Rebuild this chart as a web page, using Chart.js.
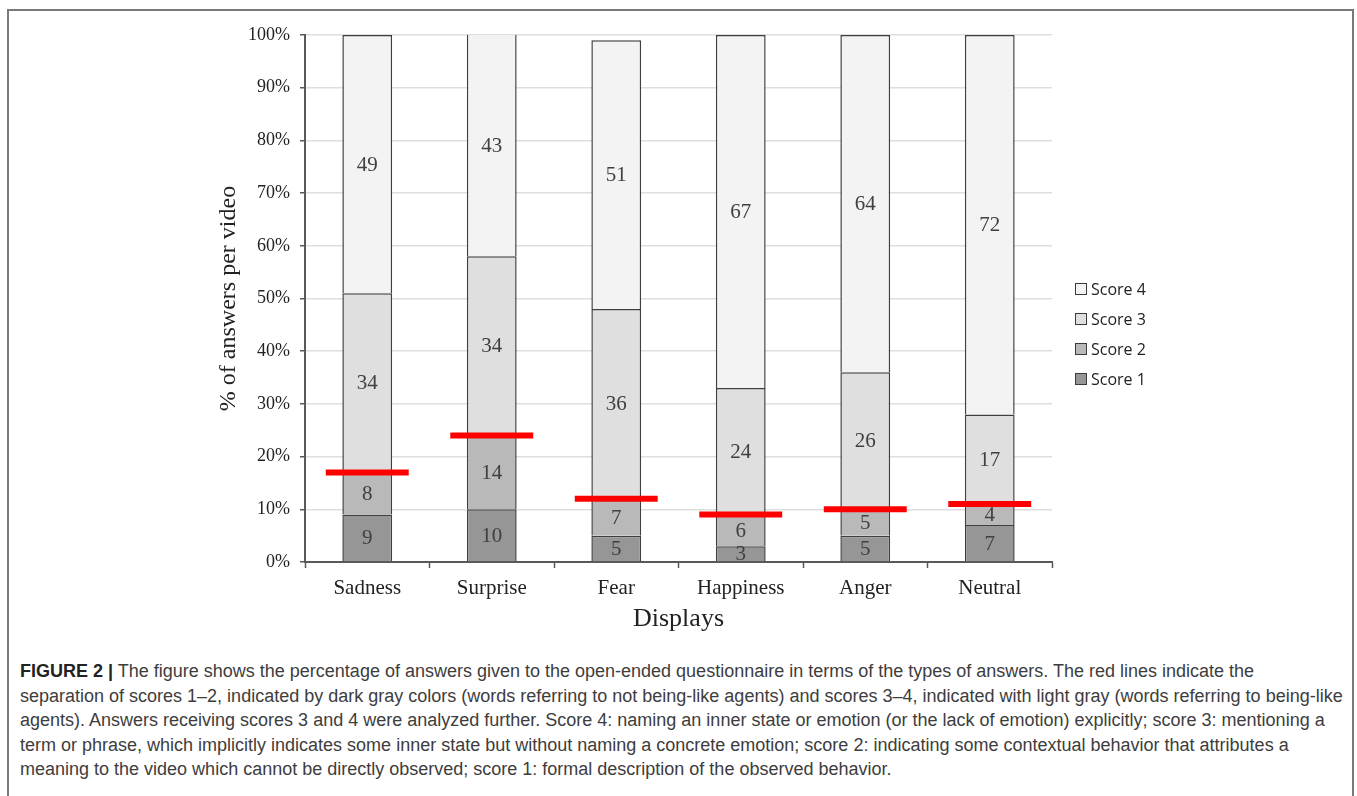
<!DOCTYPE html>
<html>
<head>
<meta charset="utf-8">
<script src="https://cdn.jsdelivr.net/npm/chart.js@4.4.1/dist/chart.umd.min.js"></script>
<style>
  html, body { margin: 0; padding: 0; background: #fff; }
  body { width: 1357px; height: 796px; position: relative; overflow: hidden; }
  #frame { position: absolute; left: 7px; top: 9px; width: 1347px; height: 800px;
           border: 2px solid #7a7a7a; border-bottom: none; box-sizing: border-box; }
  #wrap { position: absolute; left: 0; top: 0; width: 1357px; height: 645px; }
  #legend { position: absolute; left: 1075px; top: 274px; font-family: "Open Sans", sans-serif;
            font-size: 16px; color: #222; }
  #legend .row { height: 30px; display: flex; align-items: center; }
  #legend .box { width: 10px; height: 10px; border: 1px solid #3a3a3a; margin-right: 4px; }
  #caption { position: absolute; left: 20px; top: 659px; font-family: "Liberation Sans", Arial, sans-serif;
             font-size: 18px; line-height: 24.5px; color: #3d3d3d; white-space: nowrap; }
  #caption b { color: #222; }
</style>
</head>
<body>
<div id="frame"></div>
<div id="wrap"><canvas id="chart" width="1357" height="645"></canvas></div>
<div id="legend"></div>
<div id="caption">
<b>FIGURE 2 |</b> The figure shows the percentage of answers given to the open-ended questionnaire in terms of the types of answers. The red lines indicate the<br>
separation of scores 1–2, indicated by dark gray colors (words referring to not being-like agents) and scores 3–4, indicated with light gray (words referring to being-like<br>
agents). Answers receiving scores 3 and 4 were analyzed further. Score 4: naming an inner state or emotion (or the lack of emotion) explicitly; score 3: mentioning a<br>
term or phrase, which implicitly indicates some inner state but without naming a concrete emotion; score 2: indicating some contextual behavior that attributes a<br>
meaning to the video which cannot be directly observed; score 1: formal description of the observed behavior.
</div>
<script>
// Displays shown in the videos
const categories = ['Sadness', 'Surprise', 'Fear', 'Happiness', 'Anger', 'Neutral'];

// Percentage of answers per score level
const score1 = [9, 10, 5, 3, 5, 7];
const score2 = [8, 14, 7, 6, 5, 4];
const score3 = [34, 34, 36, 24, 26, 17];
const score4 = [49, 43, 51, 67, 64, 72];

const seriesNames = ['Score 1', 'Score 2', 'Score 3', 'Score 4'];
const seriesValues = [score1, score2, score3, score4];
const seriesColors = ['#969696', '#b9b9b9', '#dfdfdf', '#f3f3f3'];

const yTicks = [0, 10, 20, 30, 40, 50, 60, 70, 80, 90, 100];

// Boundary between scores 1–2 and scores 3–4
const separation = categories.map((_, i) => score1[i] + score2[i]);

const serif = '"Liberation Serif", "Times New Roman", serif';

// Value labels centred inside every segment
const segmentLabels = {
  id: 'segmentLabels',
  afterDatasetsDraw(chart) {
    const ctx = chart.ctx;
    ctx.save();
    ctx.font = '21px ' + serif;
    ctx.fillStyle = '#404040';
    ctx.textAlign = 'center';
    ctx.textBaseline = 'middle';
    chart.data.datasets.forEach((ds, di) => {
      const meta = chart.getDatasetMeta(di);
      meta.data.forEach((bar, i) => {
        const top = Math.max(bar.y, chart.chartArea.top);
        ctx.fillText(String(ds.data[i]), bar.x, (top + bar.base) / 2 + 1);
      });
    });
    ctx.restore();
  }
};

// Red separator line across each bar
const separatorLines = {
  id: 'separatorLines',
  afterDatasetsDraw(chart) {
    const ctx = chart.ctx;
    const x = chart.scales.x, y = chart.scales.y;
    const half = (x.getPixelForValue(1) - x.getPixelForValue(0)) * 0.333;
    ctx.save();
    ctx.strokeStyle = '#ff0000';
    ctx.lineWidth = 6;
    separation.forEach((v, i) => {
      const cx = x.getPixelForValue(i);
      const py = y.getPixelForValue(v);
      ctx.beginPath();
      ctx.moveTo(cx - half, py);
      ctx.lineTo(cx + half, py);
      ctx.stroke();
    });
    ctx.restore();
  }
};

new Chart(document.getElementById('chart'), {
  type: 'bar',
  data: {
    labels: categories,
    datasets: seriesNames.map((name, k) => ({
      label: name,
      data: seriesValues[k],
      backgroundColor: seriesColors[k],
      borderColor: '#3f3f3f',
      borderWidth: 1.5,
      borderSkipped: 'start',
      categoryPercentage: 1.0,
      barPercentage: 0.4
    }))
  },
  options: {
    responsive: false,
    animation: false,
    layout: { padding: { left: 200, right: 305, top: 35, bottom: 3 } },
    plugins: { legend: { display: false }, tooltip: { enabled: false } },
    scales: {
      x: {
        stacked: true,
        grid: { offset: true, drawOnChartArea: false, drawTicks: true, tickLength: 6,
                tickColor: '#595959', tickWidth: 1.5 },
        border: { color: '#595959', width: 2 },
        ticks: { color: '#222', font: { family: serif, size: 21 }, padding: 8 },
        title: { display: true, text: 'Displays', color: '#222',
                 font: { family: serif, size: 26 }, padding: { top: 0, bottom: 7 } },
        afterFit(scale) { scale.height = 80; }
      },
      y: {
        stacked: true,
        min: 0, max: 100,
        afterBuildTicks(scale) { scale.ticks = yTicks.map(v => ({ value: v })); },
        grid: { color: '#dedede', lineWidth: 1.5, tickLength: 5, tickColor: '#595959', tickWidth: 1.5 },
        border: { color: '#595959', width: 2 },
        ticks: { color: '#222', font: { family: serif, size: 18 }, padding: 10,
                 callback: v => v + '%' },
        title: { display: true, text: '% of answers per video', color: '#222',
                 font: { family: serif, size: 24 }, padding: { top: 14, bottom: 0 } },
        afterFit(scale) { scale.width = 105; }
      }
    }
  },
  plugins: [segmentLabels, separatorLines]
});

// Legend, highest score first
const legend = document.getElementById('legend');
for (let k = seriesNames.length - 1; k >= 0; k--) {
  const row = document.createElement('div');
  row.className = 'row';
  const box = document.createElement('span');
  box.className = 'box';
  box.style.background = seriesColors[k];
  const txt = document.createElement('span');
  txt.textContent = seriesNames[k];
  row.appendChild(box);
  row.appendChild(txt);
  legend.appendChild(row);
}
</script>
</body>
</html>
